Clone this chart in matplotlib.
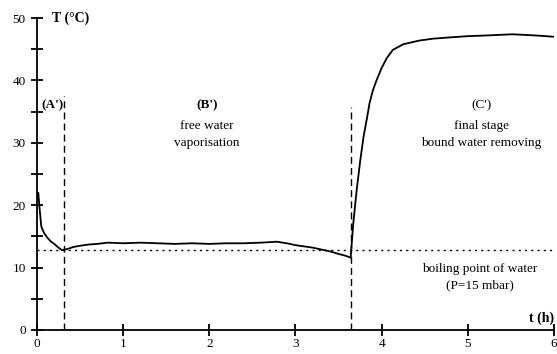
import numpy as np
import matplotlib.pyplot as plt

plt.rcParams['font.family'] = ['Liberation Serif', 'DejaVu Serif']

# product temperature during freeze drying
t_h = [0.0, 0.015, 0.03, 0.05, 0.08, 0.12, 0.16, 0.2, 0.25, 0.29, 0.33, 0.38, 0.42,
       0.5, 0.6, 0.7, 0.82, 1.0, 1.2, 1.4, 1.6, 1.8, 2.0, 2.2, 2.4, 2.6, 2.78,
       2.9, 3.0, 3.1, 3.2, 3.3, 3.4, 3.5, 3.58, 3.64,
       3.67, 3.71, 3.75, 3.79, 3.83, 3.86, 3.9, 3.94, 4.0, 4.06, 4.13, 4.25,
       4.44, 4.6, 4.79, 5.0, 5.2, 5.52, 5.8, 6.0]
temp_c = [21.5, 22.0, 19.5, 16.6, 15.6, 14.8, 14.2, 13.8, 13.2, 12.8, 12.9, 13.1, 13.3,
          13.5, 13.7, 13.8, 14.0, 13.9, 14.0, 13.9, 13.8, 13.9, 13.8, 13.9, 13.9, 14.0, 14.15,
          13.9, 13.6, 13.4, 13.2, 12.9, 12.6, 12.2, 11.9, 11.6,
          17.0, 22.4, 27.0, 31.0, 34.0, 36.4, 38.5, 40.0, 42.0, 43.6, 44.9, 45.8,
          46.4, 46.7, 46.9, 47.1, 47.2, 47.4, 47.2, 47.0]

boiling_point = 12.8
stage_limits = [0.31, 3.65]
stage_tops = [37.5, 35.8]

fig = plt.figure(figsize=(5.57, 3.54), dpi=100)
ax = fig.add_axes([0.0664, 0.0678, 0.9282, 0.8812])

ax.plot(t_h, temp_c, color='black', lw=1.3)
ax.axhline(boiling_point, color='black', lw=1.0, ls=(0, (1.5, 3)))
for x, top in zip(stage_limits, stage_tops):
    ax.plot([x, x], [0, top], color='black', lw=1.0, ls=(0, (5, 3)))

ax.set_xlim(0, 6)
ax.set_ylim(0, 50)
ax.set_xticks(range(7))
ax.set_yticks(range(0, 51, 10))
ax.set_yticks(range(5, 50, 10), minor=True)
ax.tick_params(axis='both', which='both', direction='inout', length=8, width=1.3,
               labelsize=9.5)
ax.tick_params(axis='x', pad=2)
ax.tick_params(axis='y', pad=4)
for s in ['top', 'right']:
    ax.spines[s].set_visible(False)
for s in ['left', 'bottom']:
    ax.spines[s].set_linewidth(1.3)

ax.text(0.18, 50, 'T (°C)', fontsize=10, fontweight='bold', va='center')
ax.text(6.0, 1.9, 't (h)', fontsize=10, fontweight='bold', ha='right', va='center')
ax.text(0.05, 36.0, "(A')", fontsize=9.5, fontweight='bold', va='center')
ax.text(1.97, 36.0, "(B')", fontsize=9.5, fontweight='bold', ha='center', va='center')
ax.text(1.97, 31.3, 'free water\nvaporisation', fontsize=9.5, ha='center', va='center',
        linespacing=1.5)
ax.text(5.16, 36.0, "(C')", fontsize=9.5, ha='center', va='center')
ax.text(5.16, 31.3, 'final stage\nbound water removing', fontsize=9.5, ha='center',
        va='center', linespacing=1.5)
ax.text(5.14, 8.5, 'boiling point of water\n(P=15 mbar)', fontsize=9.5, ha='center',
        va='center', linespacing=1.5)

fig.savefig('out.png', dpi=100)
